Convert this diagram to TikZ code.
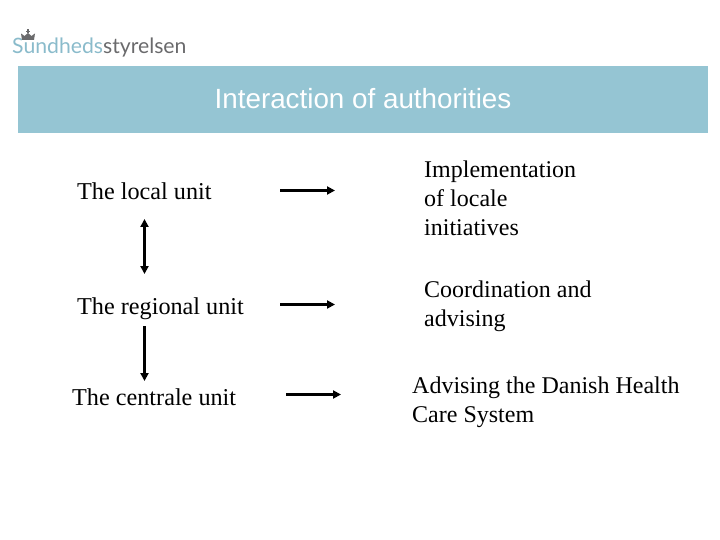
\documentclass[tikz,border=0pt]{standalone}
\usepackage{fontspec}
\setmainfont{Liberation Serif}
\newfontfamily\headfont{Liberation Sans}
\newfontfamily\logofont{Lato}
\usetikzlibrary{arrows.meta}
\definecolor{bannerblue}{HTML}{95C5D3}
\definecolor{logoblue}{HTML}{8ABBCB}
\definecolor{logogray}{HTML}{6A6A6C}
\tikzset{
    unit/.style={anchor=base west,inner sep=0pt,font=\fontsize{24.2}{28}\selectfont},
    task/.style={anchor=base west,inner sep=0pt,align=left,font=\fontsize{24}{28.8}\selectfont},
    flow/.style={line width=2.5pt,-{Triangle[length=8pt,width=8pt]}},
    link/.style={line width=2.5pt,{Triangle[length=8pt,width=8pt]}-{Triangle[length=8pt,width=8pt]}},
}
\newcommand{\arrowpair}[5]{\coordinate (#1a) at (#2,#4); \coordinate (#1b) at (#3,#5);}
\begin{document}
\begin{tikzpicture}[x=1pt,y=-1pt]
    \useasboundingbox (0,0) rectangle (720,540);
    % logo
    \node[anchor=base west,inner sep=0pt,font=\logofont\fontsize{21.2}{26}\selectfont] (logo) at (12,54)
        {\textcolor{logoblue}{Sundheds}\textcolor{logogray}{styrelsen}};
    \fill[logogray] (22,40) -- (21,33.5) -- (24.5,36) -- (28,33) -- (31.5,36) -- (35,33.5) -- (34,40) -- cycle;
    \fill[logogray] (27.3,29.5) rectangle (28.7,33.5);
    \fill[logogray] (26,30.8) rectangle (30,32);
    % banner
    \fill[bannerblue] (18,66) rectangle (708,133);
    \node[anchor=base,inner sep=0pt,text=white,font=\headfont\fontsize{27.8}{32}\selectfont] (title) at (363,109) {Interaction of authorities};

    % left column
    \node[unit] (local) at (77,200) {The local unit};
    \node[unit] (regional) at (77,314) {The regional unit};
    \node[unit] (central) at (72,405) {The centrale unit};

    % right column
    \node[task] (impl) at (424,235.5) {Implementation\\of locale\\initiatives};
    \node[task] (coord) at (424,326) {Coordination and\\advising};
    \node[task] (advis) at (412,422) {Advising the Danish Health\\Care System};

    % arrows
    \arrowpair{la}{280}{335}{190.5}{190.5}
    \arrowpair{ra}{280}{335}{304.5}{304.5}
    \arrowpair{ca}{286}{341}{394.5}{394.5}
    \arrowpair{up}{144.5}{144.5}{219}{274}
    \arrowpair{dn}{144.5}{144.5}{326}{381}
    \draw[flow] (laa) -- (lab);
    \draw[flow] (raa) -- (rab);
    \draw[flow] (caa) -- (cab);
    \draw[link] (upa) -- (upb);
    \draw[flow] (dna) -- (dnb);
\end{tikzpicture}
\end{document}
